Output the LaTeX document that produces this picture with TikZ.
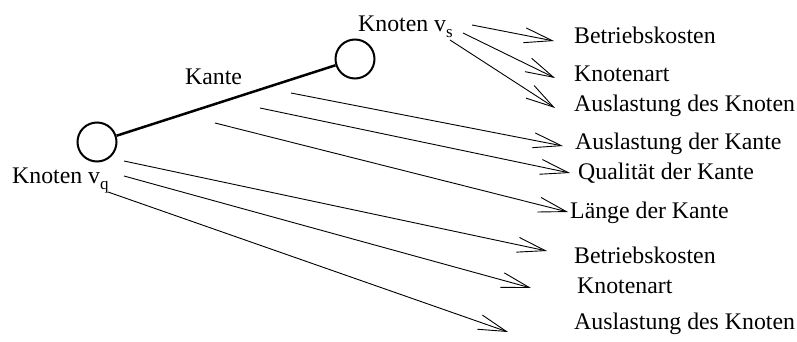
\documentclass[tikz,border=0pt]{standalone}
\usepackage{fontspec}
\setmainfont{Liberation Serif}
\usetikzlibrary{arrows.meta}
\newcommand\subtxt[1]{\raisebox{-6pt}{\fontsize{17}{17}\selectfont #1}}
\begin{document}
\begin{tikzpicture}[x=1pt,y=-1pt,
  lbl/.style={anchor=base west, inner sep=0pt, font=\fontsize{23.8}{28}\selectfont},
  knot/.style={circle, draw, line width=2pt, minimum size=39pt, inner sep=0pt},
  kante/.style={line width=2.5pt},
  pfeil/.style={line width=0.9pt, -{Straight Barb[length=28pt,width=15pt,line width=0.9pt]}}
]
\useasboundingbox (0,0) rectangle (797,342);
% nodes
\node[knot] (vq) at (97,142) {};
\node[knot] (vs) at (355,59) {};
\draw[kante] (vq) -- (vs);
% labels
\node[lbl] (lq) at (12,183) {Knoten v\subtxt{q}};
\node[lbl] (ls) at (358,32) {Knoten v\subtxt{s}};
\node[lbl] (lk) at (185,85) {Kante};
\node[lbl] (t1) at (574,44) {Betriebskosten};
\node[lbl] (t2) at (574,82) {Knotenart};
\node[lbl] (t3) at (574,111) {Auslastung des Knoten};
\node[lbl] (t4) at (575,149) {Auslastung der Kante};
\node[lbl] (t5) at (578,179) {Qualität der Kante};
\node[lbl] (t6) at (570,218) {Länge der Kante};
\node[lbl] (t7) at (574,263) {Betriebskosten};
\node[lbl] (t8) at (577,293) {Knotenart};
\node[lbl] (t9) at (574,329) {Auslastung des Knoten};
% arrow coordinates
\coordinate (s1) at (472,25);  \coordinate (e1) at (554,41);
\coordinate (s2) at (463,33);  \coordinate (e2) at (555,78);
\coordinate (s3) at (450,40);  \coordinate (e3) at (555,108);
\coordinate (s4) at (291,93);  \coordinate (e4) at (563,146);
\coordinate (s5) at (260,108); \coordinate (e5) at (570,173);
\coordinate (s6) at (215,123); \coordinate (e6) at (568,212);
\coordinate (s7) at (124,161); \coordinate (e7) at (547,251);
\coordinate (s8) at (124,176); \coordinate (e8) at (531,288);
\coordinate (s9) at (108,192); \coordinate (e9) at (508,332);
\foreach \i in {1,...,9} {\draw[pfeil] (s\i) -- (e\i);}
\end{tikzpicture}
\end{document}
